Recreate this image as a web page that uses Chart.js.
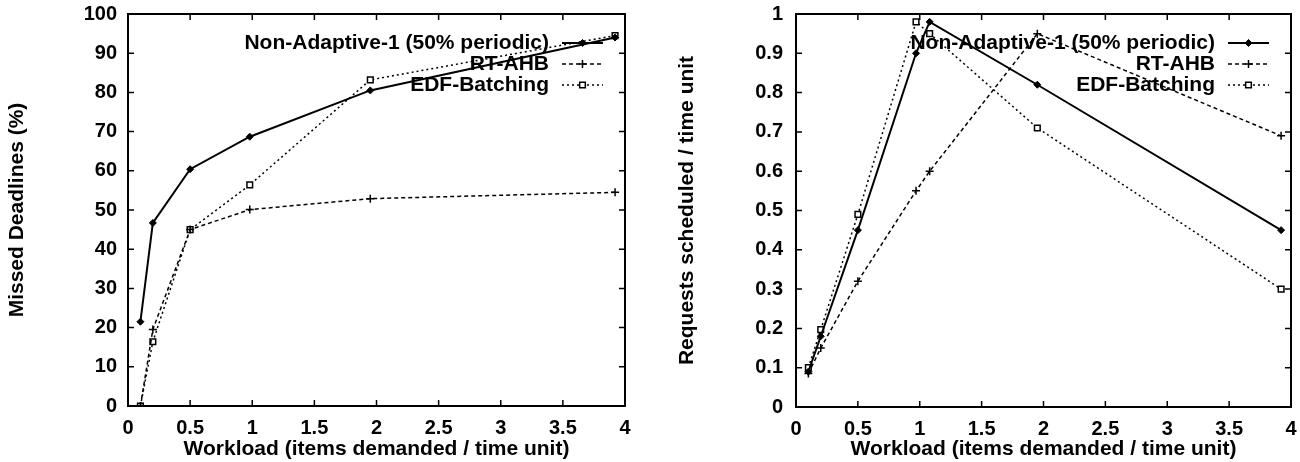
<!DOCTYPE html>
<html>
<head>
<meta charset="utf-8">
<script src="https://cdn.jsdelivr.net/npm/chart.js@4.4.1/dist/chart.umd.min.js"></script>
<style>
  html, body { margin: 0; padding: 0; background: #fff; }
  #wrap { width: 1300px; height: 462px; display: flex; }
</style>
</head>
<body>
<div id="wrap">
  <canvas id="missedChart" width="650" height="462"></canvas>
  <canvas id="schedChart" width="650" height="462"></canvas>
</div>
<script>
// series names
const seriesNames = ['Non-Adaptive-1 (50% periodic)', 'RT-AHB', 'EDF-Batching'];

// left plot: missed deadlines
const workloadLeft = [0.1, 0.2, 0.5, 0.98, 1.95, 3.92];
const missedNonAdaptive = [21.5, 46.7, 60.4, 68.7, 80.5, 94];
const missedRtAhb = [0, 19.5, 45, 50.1, 52.9, 54.5];
const missedEdf = [0, 16.4, 45, 56.4, 83.2, 94.5];

// right plot: requests scheduled
const workloadRight = [0.1, 0.2, 0.5, 0.97, 1.08, 1.95, 3.92];
const schedNonAdaptive = [0.09, 0.18, 0.45, 0.9, 0.98, 0.82, 0.45];
const schedRtAhb = [0.085, 0.15, 0.32, 0.55, 0.6, 0.95, 0.69];
const schedEdf = [0.1, 0.197, 0.49, 0.98, 0.95, 0.71, 0.3];

Chart.defaults.font.family = "'Liberation Sans', Arial, sans-serif";
Chart.defaults.font.size = 20;
Chart.defaults.font.weight = 'bold';
Chart.defaults.color = '#000';

function pts(xs, ys) {
  return xs.map((x, i) => ({x: x, y: ys[i]}));
}

function plainNum(v) {
  return String(Number(v.toFixed(2)));
}

function makeDatasets(xs, a, b, c) {
  return [
    {label: seriesNames[0], data: pts(xs, a), borderColor: '#000', borderWidth: 2,
     pointStyle: 'rectRot', pointRadius: 3.5, pointBackgroundColor: '#000', pointBorderColor: '#000', pointBorderWidth: 1},
    {label: seriesNames[1], data: pts(xs, b), borderColor: '#000', borderWidth: 1.5, borderDash: [4, 3],
     pointStyle: 'cross', pointRadius: 4, pointBorderColor: '#000', pointBorderWidth: 1.5},
    {label: seriesNames[2], data: pts(xs, c), borderColor: '#000', borderWidth: 1.5, borderDash: [2, 3],
     pointStyle: 'rect', pointRadius: 4, pointBackgroundColor: '#fff', pointBorderColor: '#000', pointBorderWidth: 1.5}
  ];
}

// gnuplot style box: frame plus inward ticks on all four sides, legend top right
const gnuFrame = {
  id: 'gnuFrame',
  afterDraw(chart) {
    const ctx = chart.ctx;
    const a = chart.chartArea;
    const xs = chart.scales.x, ys = chart.scales.y;
    ctx.save();
    ctx.strokeStyle = '#000';
    ctx.lineWidth = 1.5;
    ctx.beginPath();
    xs.ticks.forEach(t => {
      const p = xs.getPixelForValue(t.value);
      ctx.moveTo(p, a.bottom); ctx.lineTo(p, a.bottom - 6);
      ctx.moveTo(p, a.top); ctx.lineTo(p, a.top + 6);
    });
    ys.ticks.forEach(t => {
      const p = ys.getPixelForValue(t.value);
      ctx.moveTo(a.left, p); ctx.lineTo(a.left + 6, p);
      ctx.moveTo(a.right, p); ctx.lineTo(a.right - 6, p);
    });
    ctx.stroke();
    ctx.lineWidth = 2;
    ctx.strokeRect(a.left, a.top, a.right - a.left, a.bottom - a.top);

    // legend
    ctx.font = "bold 21px 'Liberation Sans', Arial, sans-serif";
    ctx.textAlign = 'right';
    ctx.textBaseline = 'middle';
    ctx.fillStyle = '#000';
    chart.data.datasets.forEach((ds, i) => {
      const y = a.top + 29 + i * 21;
      ctx.fillText(ds.label, a.right - 76, y);
      const x1 = a.right - 63, x2 = a.right - 22;
      ctx.save();
      ctx.lineWidth = ds.borderWidth;
      ctx.setLineDash(ds.borderDash || []);
      ctx.beginPath();
      ctx.moveTo(x1, y); ctx.lineTo(x2, y);
      ctx.stroke();
      ctx.restore();
      ctx.save();
      ctx.fillStyle = ds.pointBackgroundColor || '#000';
      ctx.strokeStyle = '#000';
      ctx.lineWidth = ds.pointBorderWidth;
      Chart.helpers.drawPoint(ctx, {pointStyle: ds.pointStyle, radius: ds.pointRadius, rotation: 0, borderWidth: ds.pointBorderWidth}, (x1 + x2) / 2, y);
      ctx.restore();
    });
    ctx.restore();
  }
};

function makeChart(id, datasets, yMax, yStep, yTitle, yWidth, yTitlePad, yTickPad, rightPad, xHeight) {
  return new Chart(document.getElementById(id), {
    type: 'line',
    data: {datasets: datasets},
    options: {
      responsive: false,
      animation: false,
      elements: {line: {tension: 0}},
      layout: {padding: {top: 14, right: rightPad, bottom: 0, left: 0}},
      plugins: {legend: {display: false}, tooltip: {enabled: false}},
      scales: {
        x: {
          type: 'linear', min: 0, max: 4,
          ticks: {stepSize: 0.5, padding: 10, maxRotation: 0, callback: plainNum},
          grid: {display: false, drawTicks: false},
          border: {display: false},
          title: {display: true, text: 'Workload (items demanded / time unit)',
                  font: {size: 21, weight: 'bold'}, padding: {top: 0, bottom: 0}},
          afterFit: s => { s.height = xHeight; s.paddingLeft = 0; s.paddingRight = 0; }
        },
        y: {
          min: 0, max: yMax,
          ticks: {stepSize: yStep, padding: yTickPad, callback: plainNum},
          grid: {display: false, drawTicks: false},
          border: {display: false},
          title: {display: true, text: yTitle,
                  font: {size: 21, weight: 'bold'}, padding: {top: yTitlePad, bottom: 0}},
          afterFit: s => { s.width = yWidth; s.paddingTop = 0; s.paddingBottom = 0; }
        }
      }
    },
    plugins: [gnuFrame]
  });
}

makeChart('missedChart', makeDatasets(workloadLeft, missedNonAdaptive, missedRtAhb, missedEdf),
  100, 10, 'Missed Deadlines (%)', 128, 5, 11, 25, 56);
makeChart('schedChart', makeDatasets(workloadRight, schedNonAdaptive, schedRtAhb, schedEdf),
  1, 0.1, 'Requests scheduled / time unit', 146, 25, 13, 9, 55);
</script>
</body>
</html>
